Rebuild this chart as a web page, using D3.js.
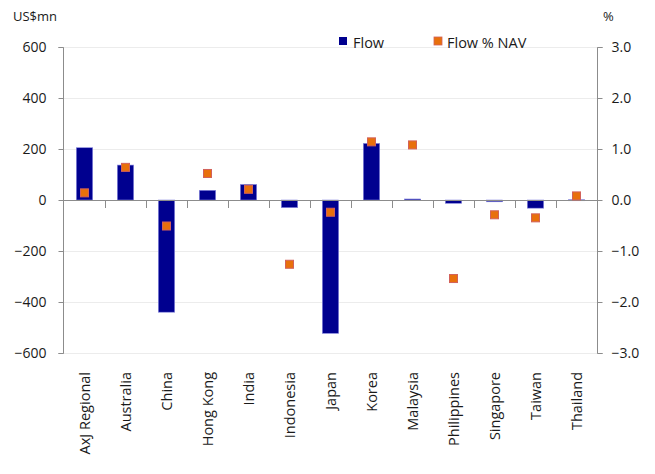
<!DOCTYPE html>
<html><head><meta charset="utf-8">
<script src="https://cdn.jsdelivr.net/npm/d3@7"></script>
<style>body{margin:0;background:#fff}svg{display:block}text{font-family:"Open Sans","Noto Sans",sans-serif;fill:#1a1a1a}</style>
</head><body><svg id="c" width="655" height="474"></svg>
<script>
const categories = ["AxJ Regional","Australia","China","Hong Kong","India","Indonesia","Japan","Korea","Malaysia","Philippines","Singapore","Taiwan","Thailand"];
const flow = [205, 137, -440, 38, 61, -30, -523, 222, 4, -13, -7, -32, 1];
const flowPctNav = [0.14, 0.64, -0.51, 0.52, 0.21, -1.26, -0.24, 1.14, 1.08, -1.54, -0.29, -0.35, 0.08];
const leftTicks = [600, 400, 200, 0, -200, -400, -600];
const rightTicks = [3, 2, 1, 0, -1, -2, -3];

const svg = d3.select("#c");
const x0 = 64, x1 = 597, yTop = 47, yBot = 353;
const x = d3.scaleBand().domain(categories).range([x0, x1]).paddingInner(0.6).paddingOuter(0.3);
const xb = d3.scaleBand().domain(categories).range([x0, x1]);
const yL = d3.scaleLinear().domain([-600, 600]).range([yBot, yTop]);
const yR = d3.scaleLinear().domain([-3, 3]).range([yBot, yTop]);
const axisColor = "#8c8c8c";
const fs = "14px";

// gridlines
svg.append("g").selectAll("line").data(leftTicks.filter(d => d !== 0)).join("line")
  .attr("x1", x0).attr("x2", x1).attr("y1", d => yL(d) + 0.5).attr("y2", d => yL(d) + 0.5)
  .attr("stroke", "#ececec").attr("stroke-width", 1);

// left axis
const gl = svg.append("g").attr("transform", `translate(${x0 - 0.5},0)`)
  .call(d3.axisLeft(yL).tickValues(leftTicks).tickSize(5).tickPadding(12).tickFormat(d3.format("d")));
gl.selectAll("path, line").attr("stroke", axisColor);
gl.select("path").attr("d", `M-5,${yTop + 0.5}H0V${yBot + 0.5}H-5`);
gl.selectAll("text").style("font-size", fs).attr("fill", "#1a1a1a");

// right axis
const gr = svg.append("g").attr("transform", `translate(${x1 + 0.5},0)`)
  .call(d3.axisRight(yR).tickValues(rightTicks).tickSize(5).tickPadding(9).tickFormat(d3.format(".1f")));
gr.selectAll("path, line").attr("stroke", axisColor);
gr.select("path").attr("d", `M5,${yTop + 0.5}H0V${yBot + 0.5}H5`);
gr.selectAll("text").style("font-size", fs).attr("fill", "#1a1a1a");

// bars
svg.append("g").selectAll("rect").data(categories).join("rect")
  .attr("x", d => x(d)).attr("width", x.bandwidth())
  .attr("y", (d, i) => yL(Math.max(0, flow[i])))
  .attr("height", (d, i) => Math.max(1, Math.abs(yL(flow[i]) - yL(0))))
  .attr("fill", "#00008f").attr("stroke", "#8a8ae0").attr("stroke-width", 0.6);

// zero axis with category ticks
const gx = svg.append("g");
gx.append("line").attr("x1", x0).attr("x2", x1).attr("y1", yL(0) + 0.5).attr("y2", yL(0) + 0.5).attr("stroke", axisColor);
gx.selectAll("line.t").data(categories).join("line").attr("class", "t")
  .attr("x1", d => Math.round(xb(d) + xb.bandwidth()) + 0.5)
  .attr("x2", d => Math.round(xb(d) + xb.bandwidth()) + 0.5)
  .attr("y1", yL(0)).attr("y2", yL(0) + 8).attr("stroke", axisColor);

// markers
svg.append("g").selectAll("rect").data(categories).join("rect")
  .attr("x", d => xb(d) + xb.bandwidth() / 2 - 4)
  .attr("y", (d, i) => yR(flowPctNav[i]) - 4)
  .attr("width", 8).attr("height", 8)
  .attr("fill", "#e8700c").attr("stroke", "#d2615a").attr("stroke-width", 1);

// category labels
svg.append("g").selectAll("text").data(categories).join("text")
  .attr("transform", d => `translate(${xb(d) + xb.bandwidth() / 2 + 5},372) rotate(-90)`)
  .attr("text-anchor", "end").style("font-size", "14.5px").text(d => d);

// axis titles
svg.append("text").attr("x", 13).attr("y", 21).style("font-size", "13px").text("US$mn");
svg.append("text").attr("x", 603).attr("y", 21).style("font-size", "13px").text("%");

// legend
const lg = svg.append("g");
lg.append("rect").attr("x", 339).attr("y", 37).attr("width", 8).attr("height", 8).attr("fill", "#00008f");
lg.append("text").attr("x", 353).attr("y", 48).style("font-size", "14.5px").text("Flow");
lg.append("rect").attr("x", 434).attr("y", 37).attr("width", 8).attr("height", 8).attr("fill", "#e8700c").attr("stroke", "#d2615a").attr("stroke-width", 0.8);
lg.append("text").attr("x", 447).attr("y", 48).style("font-size", "14.5px").text("Flow % NAV");
</script></body></html>
